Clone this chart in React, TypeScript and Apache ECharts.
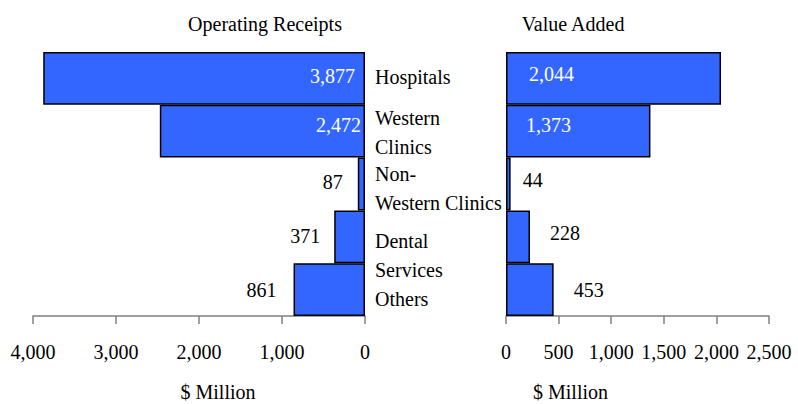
import React, { useEffect, useRef } from "react";
import * as echarts from "echarts";

const categories = ["Hospitals", "Western\nClinics", "Non-\nWestern Clinics", "Dental\nServices", "Others"];
const receipts = [3877, 2472, 87, 371, 861];
const valueAdded = [2044, 1373, 44, 228, 453];
const leftTicks = { min: 0, max: 4000, interval: 1000 };
const rightTicks = { min: 0, max: 2500, interval: 500 };

// label placement (style only): vertical shift of category label blocks in px
const catShift = [-1, 1, 4, 19, 9];
const leftLabel = [
  { position: "insideRight", distance: 10, offset: [0, -2], color: "#fff" },
  { position: "insideRight", distance: 4, offset: [0, -6], color: "#fff" },
  { position: "left", distance: 15, offset: [0, -2], color: "#000" },
  { position: "left", distance: 14, offset: [0, -1], color: "#000" },
  { position: "left", distance: 17, offset: [0, 0], color: "#000" },
];
const rightLabel = [
  { position: "insideLeft", distance: 23, offset: [0, -4], color: "#fff" },
  { position: "insideLeft", distance: 20, offset: [0, -6], color: "#fff" },
  { position: "right", distance: 12, offset: [0, -4], color: "#000" },
  { position: "right", distance: 20, offset: [0, -4], color: "#000" },
  { position: "right", distance: 20, offset: [0, 0], color: "#000" },
];

const FONT = "Liberation Serif";
const fmt = (v: number) => v.toLocaleString("en-US");

export default function App() {
  const ref = useRef<HTMLDivElement>(null);
  useEffect(() => {
    if (!ref.current) return;
    const chart = echarts.init(ref.current, undefined, { renderer: "svg" });
    const axisLine = { show: true, lineStyle: { color: "#808080", width: 1.5 } };
    const xCommon = {
      axisLine,
      axisTick: { show: true, length: 8, lineStyle: { color: "#808080", width: 1.5 } },
      splitLine: { show: false },
      axisLabel: { fontFamily: FONT, fontSize: 20, color: "#000", margin: 26 },
      nameLocation: "middle" as const,
      nameGap: 66,
    };
    const barStyle = { color: "#3366FF", borderColor: "#000", borderWidth: 1.5 };
    const rich: Record<string, any> = {
      t: { fontFamily: FONT, fontSize: 20, color: "#000", lineHeight: 29 },
    };
    catShift.forEach((s, i) => {
      rich["g" + i] = { fontFamily: FONT, fontSize: 1, lineHeight: Math.abs(s) * 2 };
    });
    const catFormatter = (value: string, index: number) => {
      const s = catShift[index] || 0;
      const body = value.split("\n").map((l) => `{t|${l}}`).join("\n");
      if (s > 0) return `{g${index}|\u00a0}\n${body}`;
      if (s < 0) return `${body}\n{g${index}|\u00a0}`;
      return body;
    };
    chart.setOption({
      animation: false,
      backgroundColor: "#fff",
      textStyle: { fontFamily: FONT },
      title: [
        { text: "Operating Receipts", left: 265, top: 14, textAlign: "center", padding: 0,
          textStyle: { fontFamily: FONT, fontSize: 20, fontWeight: "normal", color: "#000" } },
        { text: "Value Added", left: 573, top: 14, textAlign: "center", padding: 0,
          textStyle: { fontFamily: FONT, fontSize: 20, fontWeight: "normal", color: "#000" } },
      ],
      grid: [
        { left: 33, right: 433, top: 52, height: 264, outerBoundsMode: "none", containLabel: false },
        { left: 506, right: 29, top: 52, height: 264, outerBoundsMode: "none", containLabel: false },
      ],
      xAxis: [
        { ...xCommon, type: "value", gridIndex: 0, inverse: true, ...leftTicks,
          name: "$ Million", nameTextStyle: { fontFamily: FONT, fontSize: 20, color: "#000", padding: [0, 0, 0, 38] } },
        { ...xCommon, type: "value", gridIndex: 1, ...rightTicks,
          name: "$ Million", nameTextStyle: { fontFamily: FONT, fontSize: 20, color: "#000", padding: [0, 134, 0, 0] } },
      ],
      yAxis: [
        { type: "category", gridIndex: 0, inverse: true, position: "right", data: categories,
          axisLine: { show: false }, axisTick: { show: false },
          axisLabel: { interval: 0, hideOverlap: false, align: "left", margin: 10, formatter: catFormatter, rich } },
        { type: "category", gridIndex: 1, inverse: true, data: categories,
          axisLine: { show: false }, axisTick: { show: false }, axisLabel: { show: false } },
      ],
      series: [
        { type: "bar", xAxisIndex: 0, yAxisIndex: 0, barCategoryGap: 0, itemStyle: barStyle,
          data: receipts.map((v, i) => ({
            value: v,
            label: { show: true, formatter: () => fmt(v), fontFamily: FONT, fontSize: 20, ...leftLabel[i] },
          })) },
        { type: "bar", xAxisIndex: 1, yAxisIndex: 1, barCategoryGap: 0, itemStyle: barStyle,
          data: valueAdded.map((v, i) => ({
            value: v,
            label: { show: true, formatter: () => fmt(v), fontFamily: FONT, fontSize: 20, ...rightLabel[i] },
          })) },
      ],
    });
    return () => chart.dispose();
  }, []);
  return <div ref={ref} style={{ position: "fixed", left: 0, top: 0, width: 798, height: 404 }} />;
}
